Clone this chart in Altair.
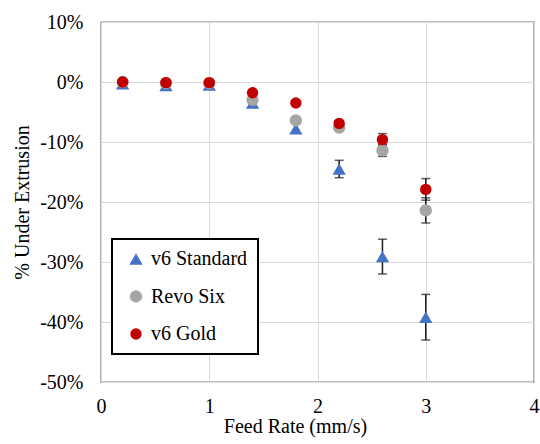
import altair as alt
import pandas as pd

# Feed rate (mm/s) at which each hotend was tested
feed_rate = [0.2, 0.6, 1.0, 1.4, 1.8, 2.2, 2.6, 3.0]

series_names = ["v6 Standard", "Revo Six", "v6 Gold"]
series_colors = ["#4472C4", "#A5A5A5", "#C00000"]
series_shapes = ["triangle-up", "circle", "circle"]
series_sizes = [175, 130, 115]

# % under extrusion (mean) and error (+/-) per hotend
v6_standard = [-0.3, -0.6, -0.5, -3.5, -7.8, -14.5, -29.1, -39.2]
v6_standard_err = [0, 0, 0, 0, 0, 1.45, 2.9, 3.8]
revo_six = [0.0, -0.2, -0.2, -3.0, -6.4, -7.6, -11.4, -21.4]
revo_six_err = [0, 0, 0, 0, 0, 0, 1.0, 2.1]
v6_gold = [0.0, -0.1, -0.1, -1.8, -3.5, -6.9, -9.6, -17.9]
v6_gold_err = [0, 0, 0, 0, 0, 0, 1.0, 1.8]

# axis tick values
x_ticks = [0, 1, 2, 3, 4]
y_ticks = [-50, -40, -30, -20, -10, 0, 10]

rows = []
for name, vals, errs in [
    ("v6 Standard", v6_standard, v6_standard_err),
    ("Revo Six", revo_six, revo_six_err),
    ("v6 Gold", v6_gold, v6_gold_err),
]:
    for x, v, e in zip(feed_rate, vals, errs):
        rows.append({"feed": x, "value": v, "err": e, "lo": v - e, "hi": v + e,
                     "series": name})
df = pd.DataFrame(rows)
df_err = df[df["err"] > 0]

FONT = "Liberation Serif"

x_enc = alt.X(
    "feed:Q",
    scale=alt.Scale(domain=[0, 4], nice=False),
    axis=alt.Axis(
        title="Feed Rate (mm/s)",
        values=x_ticks,
        format="d",
        ticks=False,
        tickSize=0,
        domain=False,
        labelPadding=30,
        labelBaseline="alphabetic",
        labelFlush=False,
        titleBaseline="alphabetic",
        titleX=194,
        titleY=50,
        titleAlign="center",
        grid=True,
    ),
)
y_enc = alt.Y(
    "value:Q",
    scale=alt.Scale(domain=[-50, 10], nice=False),
    axis=alt.Axis(
        title="% Under Extrusion",
        values=y_ticks,
        labelExpr="datum.value + '%'",
        ticks=False,
        tickSize=0,
        domain=False,
        labelPadding=18,
        labelFlush=False,
        titleX=-79,
        titleY=180,
        titleAlign="center",
        titleBaseline="middle",
        titleAngle=-90,
        grid=True,
    ),
)

err_x = alt.X("feed:Q", scale=alt.Scale(domain=[0, 4], nice=False))
err_rule = alt.Chart(df_err).mark_rule(color="#1a1a1a", strokeWidth=1.5).encode(
    x=err_x,
    y=alt.Y("lo:Q"),
    y2="hi:Q",
)
cap_lo = alt.Chart(df_err).mark_tick(
    color="#1a1a1a", orient="horizontal", size=9, thickness=1.5
).encode(x=err_x, y=alt.Y("lo:Q"))
cap_hi = alt.Chart(df_err).mark_tick(
    color="#1a1a1a", orient="horizontal", size=9, thickness=1.5
).encode(x=err_x, y=alt.Y("hi:Q"))

legend = alt.Legend(
    title=None,
    orient="none",
    legendX=11,
    legendY=217,
    direction="vertical",
    labelFont=FONT,
    labelFontSize=20,
    labelColor="#000000",
    labelOffset=5,
    symbolSize=115,
    symbolOffset=4,
    symbolStrokeWidth=0,
    symbolOpacity=1,
    rowPadding=17.5,
    padding=10,
    strokeColor="#000000",
    fillColor="#ffffff",
)

points = alt.Chart(df).mark_point(filled=True, opacity=1, strokeWidth=0).encode(
    x=x_enc,
    y=y_enc,
    color=alt.Color(
        "series:N",
        scale=alt.Scale(domain=series_names, range=series_colors),
        legend=legend,
    ),
    shape=alt.Shape(
        "series:N",
        scale=alt.Scale(domain=series_names, range=series_shapes),
        legend=legend,
    ),
    size=alt.Size(
        "series:N",
        scale=alt.Scale(domain=series_names, range=series_sizes),
        legend=None,
    ),
)

chart = (
    alt.layer(err_rule, cap_lo, cap_hi, points)
    .properties(
        width=433,
        height=360,
        autosize=alt.AutoSizeParams(type="none"),
        padding={"left": 101, "top": 22, "right": 6, "bottom": 62},
        background="#ffffff",
    )
    .configure(font=FONT)
    .configure_view(stroke="#000000", strokeWidth=1.2)
    .configure_axis(
        labelFont=FONT,
        labelFontSize=20,
        labelColor="#000000",
        titleFont=FONT,
        titleFontSize=20,
        titleFontWeight="normal",
        titleColor="#000000",
        gridColor="#d9d9d9",
        gridWidth=1,
    )
    .configure_legend(strokeWidth=2, labelFont=FONT)
)

chart.save("out.html", embed_options={"renderer": "svg", "actions": False})
